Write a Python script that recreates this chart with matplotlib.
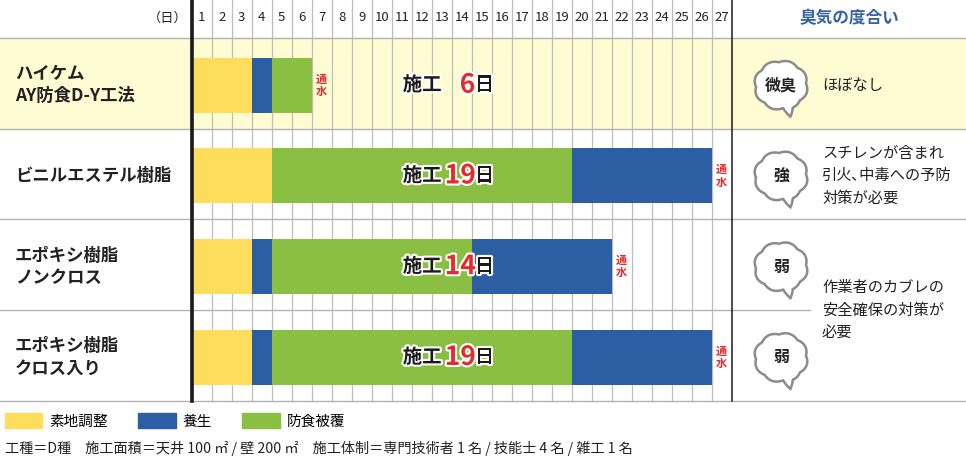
import numpy as np
import matplotlib
matplotlib.use("Agg")
import matplotlib.pyplot as plt
from matplotlib.patches import Patch, Polygon
import matplotlib.patheffects as pe

plt.rcParams['font.family'] = ['Noto Sans CJK JP', 'DejaVu Sans']

# ── data ──
methods = ["ハイケム\nAY防食D-Y工法", "ビニルエステル樹脂", "エポキシ樹脂\nノンクロス", "エポキシ樹脂\nクロス入り"]
prep = np.array([3, 4, 3, 3])      # 素地調整
cure_a = np.array([1, 0, 1, 1])    # 養生 (被覆前)
coat = np.array([2, 15, 10, 15])   # 防食被覆
cure_b = np.array([0, 7, 7, 7])    # 養生 (被覆後)
work_days = [6, 19, 14, 19]
days = list(range(1, 28))
odor_level = ["微臭", "強", "弱", "弱"]
odor_note = ["ほぼなし", "スチレンが含まれ\n引火､中毒への予防\n対策が必要", "作業者のカブレの\n安全確保の対策が\n必要"]
legend_labels = ["素地調整", "養生", "防食被覆"]
footer = "工種＝D種　施工面積＝天井 100 ㎡ / 壁 200 ㎡　施工体制＝専門技術者 1 名 / 技能士 4 名 / 雑工 1 名"

YEL, BLU, GRN = "#fedd5c", "#2b5ea3", "#8bbf44"
BG1, GRID, LINE, RED, HEAD = "#fffbd2", "#bdbdbd", "#b3b3b3", "#e52a2e", "#3563a6"

# ── geometry (pixels) ──
W, H = 966, 458
X0, DX = 191.7, 20.0    # day 0 position, px per day
Y0, DY = 38.0, 90.75    # row 0 top, px per row
px2x = lambda p: (p - X0) / DX
px2y = lambda p: (p - Y0) / DY

fig = plt.figure(figsize=(W / 100, H / 100), dpi=100)
ax = fig.add_axes([0, 0, 1, 1])
ax.set_xlim(px2x(0), px2x(W))
ax.set_ylim(px2y(H), px2y(0))
ax.axis("off")

n = len(methods)
yc = np.arange(n) + 0.52
bh = 55 / DY

# table
ax.axhspan(0, 1, color=BG1, zorder=0)
top = px2y(0)
for k in range(1, 27):
    ax.plot([k, k], [top, n], color=GRID, lw=0.9, zorder=1)
ax.plot([0, 0], [top, n], color="#1a1a1a", lw=2.6, zorder=4)
ax.plot([27, 27], [top, n], color="#1a1a1a", lw=1.1, zorder=4)
for y in (0, 1, 2, 4):
    ax.axhline(y, color=LINE, lw=1.0, zorder=1)
ax.plot([px2x(0), px2x(810)], [3, 3], color=LINE, lw=1.0, zorder=1)

# bars
ax.barh(yc, prep, left=0, height=bh, color=YEL, zorder=2)
ax.barh(yc, cure_a, left=prep, height=bh, color=BLU, zorder=2)
ax.barh(yc, coat, left=prep + cure_a, height=bh, color=GRN, zorder=2)
ax.barh(yc, cure_b, left=prep + cure_a + coat, height=bh, color=BLU, zorder=2)
total = prep + cure_a + coat + cure_b

stroke = [pe.withStroke(linewidth=3, foreground="white")]
for i in range(n):
    ax.text(total[i] + 0.5, yc[i], "通\n水", color=RED, fontsize=8, fontweight="bold",
            ha="center", va="center", linespacing=0.95, zorder=5)
    ax.text(px2x(15), yc[i], methods[i], ha="left", va="center", fontsize=12.5,
            fontweight="bold", linespacing=1.3, color="#222222", zorder=5)
    num_x = 13.4 if i == 0 else 12.65
    ax.text(12.5, yc[i], "施工", ha="right", va="center", fontsize=14, fontweight="bold",
            color="#1a1a1a", path_effects=stroke, zorder=5)
    ax.text(num_x, yc[i], str(work_days[i]), ha="left", va="center", fontsize=19,
            fontweight="bold", color=RED, path_effects=stroke, zorder=5)
    ax.text(14.15, yc[i], "日", ha="left", va="center", fontsize=14, fontweight="bold",
            color="#1a1a1a", path_effects=stroke, zorder=5)

# header
for d in days:
    ax.text(d - 0.5, px2y(18), str(d), ha="center", va="center", fontsize=9.5, color="#222222")
ax.text(px2x(168), px2y(18), "（日）", ha="center", va="center", fontsize=9.5, color="#222222")
ax.text(px2x(849), px2y(18), "臭気の度合い", ha="center", va="center", fontsize=12,
        fontweight="bold", color=HEAD)


# odor clouds
def cloud(cx, cy, rx=25, ry=23):
    th = np.linspace(0, 2 * np.pi, 720)
    r = 1 + 0.08 * np.abs(np.sin(4 * th + 0.3))
    t_tail = np.arctan2(29, 8)
    r = r + 0.36 * np.clip(1 - np.abs(th - t_tail) / 0.18, 0, None)
    xs = cx + rx * r * np.cos(th)
    ys = cy + ry * r * np.sin(th)
    return np.column_stack([px2x(xs), px2y(ys)])


cloud_px = 781
for i in range(n):
    cy_px = Y0 + yc[i] * DY
    ax.add_patch(Polygon(cloud(cloud_px, cy_px), closed=True, fc="white", ec="#8c8c8c",
                         lw=1.8, zorder=3))
    ax.text(px2x(cloud_px), yc[i], odor_level[i], ha="center", va="center", fontsize=11.5,
            fontweight="bold", color="#222222", zorder=5)

note_y = [yc[0], yc[1], 3.0]
for t, y in zip(odor_note, note_y):
    ax.text(px2x(822), y, t, ha="left", va="center", fontsize=11, linespacing=1.45,
            color="#222222", zorder=5)

# legend + footer
handles = [Patch(color=c) for c in (YEL, BLU, GRN)]
fig.legend(handles, legend_labels, loc="center left", bbox_to_anchor=(4.5 / W, 1 - 421 / H),
           ncol=3, frameon=False, fontsize=10.5, handlelength=2.6, handleheight=1.15,
           handletextpad=0.45, columnspacing=2.1, borderpad=0, borderaxespad=0)
fig.text(5 / W, 1 - 448 / H, footer, fontsize=10.2, va="center", color="#222222")

fig.savefig("out.png", dpi=100)
